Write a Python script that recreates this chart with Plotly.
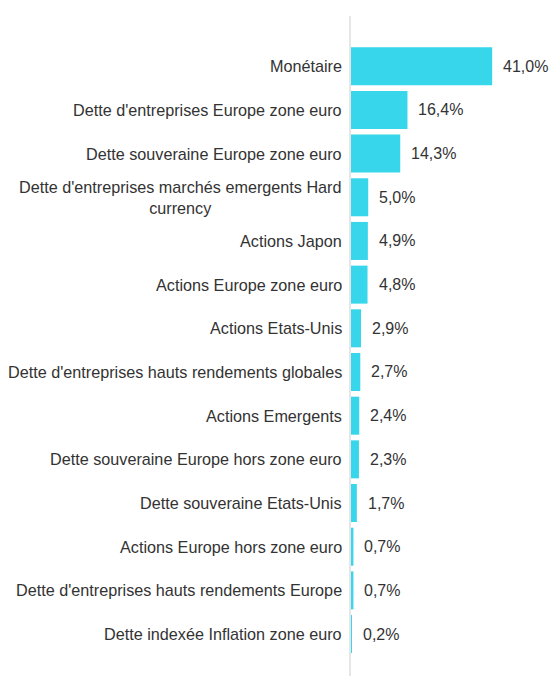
import plotly.graph_objects as go

categories = [
    "Monétaire",
    "Dette d'entreprises Europe zone euro",
    "Dette souveraine Europe zone euro",
    "Dette d'entreprises marchés emergents Hard<br>currency",
    "Actions Japon",
    "Actions Europe zone euro",
    "Actions Etats-Unis",
    "Dette d'entreprises hauts rendements globales",
    "Actions Emergents",
    "Dette souveraine Europe hors zone euro",
    "Dette souveraine Etats-Unis",
    "Actions Europe hors zone euro",
    "Dette d'entreprises hauts rendements Europe",
    "Dette indexée Inflation zone euro",
]
values = [41.0, 16.4, 14.3, 5.0, 4.9, 4.8, 2.9, 2.7, 2.4, 2.3, 1.7, 0.7, 0.7, 0.2]

FONT = "Arial, Liberation Sans, sans-serif"
TXT = "#333333"

pos = list(range(len(categories)))

fig = go.Figure(
    go.Bar(
        x=values,
        y=pos,
        orientation="h",
        marker=dict(color="#37d6ea", line=dict(width=0)),
        width=0.87,
        hoverinfo="skip",
    )
)

annotations = []
for i, (c, v) in enumerate(zip(categories, values)):
    annotations.append(dict(
        x=0, y=i, xref="paper", yref="y", text=c, showarrow=False,
        xanchor="right", yanchor="middle", align="center", xshift=-7,
        font=dict(family=FONT, size=16.2, color=TXT),
    ))
    annotations.append(dict(
        x=v, y=i, xref="x", yref="y", text=f"{v:.1f}%".replace(".", ","),
        showarrow=False, xanchor="left", yanchor="middle", xshift=9,
        font=dict(family=FONT, size=16, color=TXT),
    ))

fig.update_layout(
    width=549, height=677,
    margin=dict(l=351, r=0, t=16, b=1),
    paper_bgcolor="white", plot_bgcolor="white",
    showlegend=False,
    annotations=annotations,
    xaxis=dict(range=[0, 57.5], showgrid=False, zeroline=False,
               showticklabels=False, showline=False, fixedrange=True),
    yaxis=dict(range=[13.96, -1.15], showgrid=False, zeroline=False,
               showticklabels=False, ticks="", showline=True,
               linecolor="#e6e6e6", linewidth=1.5, fixedrange=True),
)

fig.write_html(
    "out.html",
    config={"displayModeBar": False},
    post_script="document.body.style.margin='0';document.body.style.overflow='hidden';",
)
